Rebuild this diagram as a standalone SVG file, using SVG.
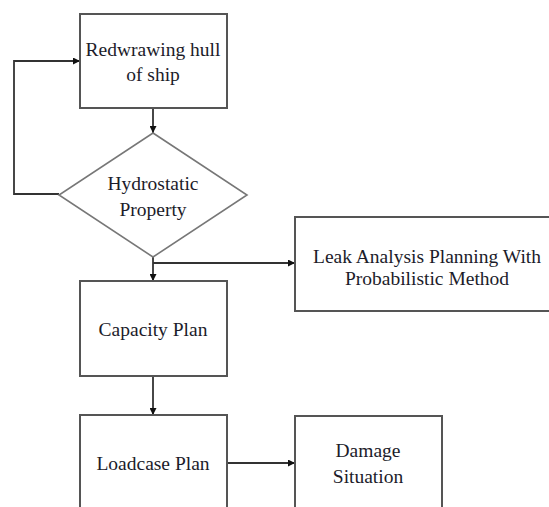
<svg xmlns="http://www.w3.org/2000/svg" width="549" height="507" viewBox="0 0 549 507">
<style>
.box{fill:#fff;stroke:#555;stroke-width:2}
.dia{fill:#fff;stroke:#777;stroke-width:1.6}
.t{font-family:'Liberation Serif','Times New Roman',Times,'DejaVu Serif',serif;font-size:19.5px;fill:#1c1c2a;text-anchor:middle}
.c{fill:none;stroke:#333;stroke-width:1.8}
</style>
<defs>
<marker id="ah" viewBox="0 0 10 10" refX="10" refY="5" markerWidth="7" markerHeight="7" orient="auto" markerUnits="userSpaceOnUse">
<path d="M0,0 L10,5 L0,10 z" fill="#111"/>
</marker>
</defs>
<rect width="549" height="507" fill="#fff"/>
<g id="connectors">
<line class="c" x1="153" y1="108" x2="153" y2="133" marker-end="url(#ah)"/>
<polyline class="c" points="59,194 14,194 14,61 80,61" marker-end="url(#ah)"/>
<line class="c" x1="153" y1="257" x2="153" y2="281" marker-end="url(#ah)"/>
<line class="c" x1="153" y1="263" x2="295" y2="263" marker-end="url(#ah)"/>
<line class="c" x1="153" y1="376" x2="153" y2="415" marker-end="url(#ah)"/>
<line class="c" x1="227" y1="463" x2="295" y2="463" marker-end="url(#ah)"/>
</g>
<g id="redrawing">
<rect class="box" x="80" y="14" width="147" height="94"/>
<text class="t" x="153" y="56" font-family="Liberation Serif, serif">Redwrawing hull</text>
<text class="t" x="153" y="81" font-family="Liberation Serif, serif">of ship</text>
</g>
<g id="hydrostatic">
<polygon class="dia" points="153,133 247,195 153,257 59,195"/>
<text class="t" x="153" y="190">Hydrostatic</text>
<text class="t" x="153" y="216">Property</text>
</g>
<g id="leak">
<rect class="box" x="295" y="217" width="262" height="94"/>
<text class="t" x="427" y="263">Leak Analysis Planning With</text>
<text class="t" x="427" y="285">Probabilistic Method</text>
</g>
<g id="capacity">
<rect class="box" x="80" y="281" width="147" height="95"/>
<text class="t" x="153" y="336">Capacity Plan</text>
</g>
<g id="loadcase">
<rect class="box" x="80" y="415" width="147" height="100"/>
<text class="t" x="153" y="470">Loadcase Plan</text>
</g>
<g id="damage">
<rect class="box" x="295" y="416" width="147" height="100"/>
<text class="t" x="368" y="457">Damage</text>
<text class="t" x="368" y="483">Situation</text>
</g>
</svg>
